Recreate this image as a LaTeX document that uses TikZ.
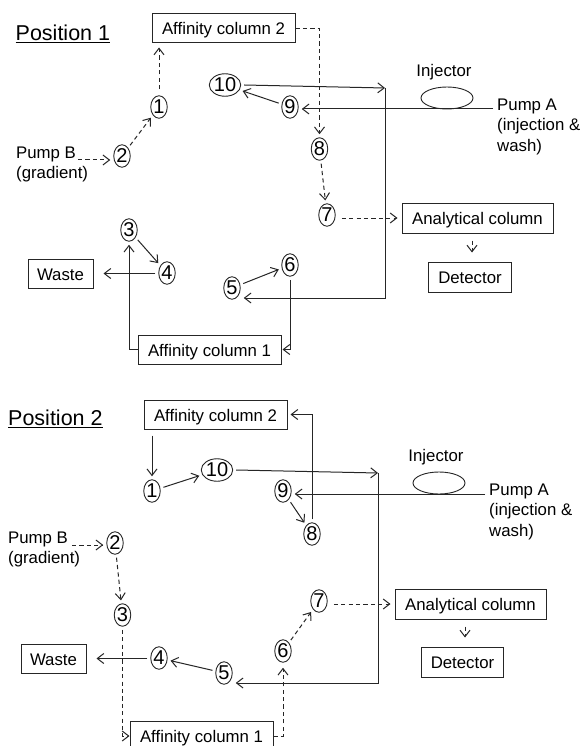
\documentclass[tikz,border=0pt]{standalone}
\usepackage{fontspec}
\setmainfont{Liberation Sans}
\usetikzlibrary{arrows.meta,shapes.geometric}
\tikzset{
  conn/.style={draw=black!85,line width=1pt},
  fl/.style={conn,-{Straight Barb[length=6.5pt,width=10pt,line width=1pt]}},
  dfl/.style={fl,dash pattern=on 4.2pt off 3.2pt},
  circ/.style={draw=black!85,ellipse,line width=0.9pt,inner sep=0pt,minimum width=16.5pt,minimum height=22.5pt,outer sep=3.5pt,font=\fontsize{20}{22}\selectfont},
  boxn/.style={draw=black!85,line width=1pt,inner sep=0pt,text height=13pt,text depth=0pt,font=\fontsize{16.8}{20}\selectfont},
  lab/.style={align=left,inner sep=0pt,font=\fontsize{16.8}{20.2}\selectfont},
  ttl/.style={inner sep=0pt,anchor=west,font=\fontsize{21.5}{24}\selectfont},
  inj/.style={draw=black!85,ellipse,line width=0.9pt,minimum width=52pt,minimum height=22pt,inner sep=0pt},
}
\begin{document}
\begin{tikzpicture}[x=1pt,y=-1pt]
\useasboundingbox (0,0) rectangle (581,746);
\fill[white] (0,0) rectangle (581,746);
\clip (0,0) rectangle (581,746);
% ---------- Position 1
\node[ttl] (t1) at (15.5,34) {\underline{Position 1}};
\node[boxn,minimum width=143pt,minimum height=29pt] (acb1) at (223.5,28.5) {Affinity column 2};
\node[boxn,minimum width=143pt,minimum height=29pt] (aca1) at (209.5,349.5) {Affinity column 1};
\node[boxn,minimum width=65pt,minimum height=29pt] (wa1) at (60.5,273.5) {Waste};
\node[boxn,minimum width=151pt,minimum height=30pt] (an1) at (477.5,218) {Analytical column};
\node[boxn,minimum width=82.5pt,minimum height=30pt] (de1) at (470,277) {Detector};
\node[inj] (in1) at (447,98) {};
\node[lab] (il1) at (444,72) {Injector};
\node[lab,anchor=north west] (pa1) at (497,99) {Pump A\\(injection \&\\wash)};
\node[lab,anchor=north west] (pb1) at (16,147) {Pump B\\(gradient)};
\coordinate (pal1) at (493,109);
\coordinate (pbl1) at (78,160);
\node[circ] (a1) at (159,107) {1};
\node[circ] (a2) at (122,156) {2};
\node[circ] (a3) at (129,230) {3};
\node[circ] (a4) at (167,273) {4};
\node[circ] (a5) at (232,288) {5};
\node[circ] (a6) at (290,265) {6};
\node[circ] (a7) at (327,215) {7};
\node[circ] (a8) at (319.5,149) {8};
\node[circ] (a9) at (290,107) {9};
\node[circ,minimum width=31pt] (a10) at (225,85) {10};
\coordinate (tr1) at (385,88);
\coordinate (br1) at (385,298);
\draw[dfl] (pbl1) -- (pbl1 -| a2.west);
\draw[dfl] (a2) -- (a1);
\draw[dfl,shorten <=3pt,shorten >=4pt] (a1) -- (a1 |- acb1.south);
\draw[dfl] (acb1.east) -- (acb1.east -| a8) -- (a8);
\draw[dfl] (a8) -- (a7);
\draw[dfl,shorten <=3pt,shorten >=4pt] (a7.east |- an1.west) -- (an1.west);
\draw[dfl,shorten <=7pt,shorten >=9pt] (an1.south) ++(-5.5,0) coordinate (ans1) -- (ans1 |- de1.north);
\draw[fl] (pal1) -- (pal1 -| a9.east);
\draw[fl] (a9) -- (a10);
\draw[fl] (a10.east) -- (tr1);
\draw[fl] (tr1) -- (br1) -- (br1 -| a5.east);
\draw[fl] (a5) -- (a6);
\draw[fl,shorten >=1pt] (a6.south) -- (a6.south |- aca1.east) -- (aca1.east);
\draw[fl] (aca1.west) -- (aca1.west -| a3) -- (a3.south);
\draw[fl] (a3) -- (a4);
\draw[fl,shorten >=10pt] (a4.west |- wa1.east) -- (wa1.east);
% ---------- Position 2
\node[ttl] (t2) at (8,419) {\underline{Position 2}};
\node[boxn,minimum width=143pt,minimum height=29pt] (acb2) at (215.5,414.5) {Affinity column 2};
\node[boxn,minimum width=143pt,minimum height=30pt] (aca2) at (201.5,736) {Affinity column 1};
\node[boxn,minimum width=65pt,minimum height=29pt] (wa2) at (53.5,658.5) {Waste};
\node[boxn,minimum width=151pt,minimum height=30pt] (an2) at (470.5,604) {Analytical column};
\node[boxn,minimum width=82.5pt,minimum height=30pt] (de2) at (462.5,662) {Detector};
\node[inj] (in2) at (439,483) {};
\node[lab] (il2) at (436,457.5) {Injector};
\node[lab,anchor=north west] (pa2) at (489,484) {Pump A\\(injection \&\\wash)};
\node[lab,anchor=north west] (pb2) at (8,532) {Pump B\\(gradient)};
\coordinate (pal2) at (485,494);
\coordinate (pbl2) at (72,545);
\node[circ] (b1) at (152,491) {1};
\node[circ] (b2) at (115,543) {2};
\node[circ] (b3) at (122.5,615) {3};
\node[circ] (b4) at (159,658) {4};
\node[circ] (b5) at (224,673) {5};
\node[circ] (b6) at (283,651) {6};
\node[circ] (b7) at (319,601) {7};
\node[circ] (b8) at (312,534) {8};
\node[circ] (b9) at (283,491) {9};
\node[circ,minimum width=31pt] (b10) at (217,470) {10};
\coordinate (tr2) at (378,473);
\coordinate (br2) at (378,683);
\draw[dfl] (pbl2) -- (pbl2 -| b2.west);
\draw[dfl] (b2) -- (b3);
\draw[dfl] (b3.south) -- (b3.south |- aca2.west) -- (aca2.west);
\draw[dfl,shorten >=2pt] (aca2.east) -- (aca2.east -| b6) -- (b6.south);
\draw[dfl] (b6) -- (b7);
\draw[dfl,shorten <=3pt,shorten >=4pt] (b7.east |- an2.west) -- (an2.west);
\draw[dfl,shorten <=7pt,shorten >=9pt] (an2.south) ++(-5.5,0) coordinate (ans2) -- (ans2 |- de2.north);
\draw[fl] (pal2) -- (pal2 -| b9.east);
\draw[fl] (b9) -- (b8);
\draw[fl,shorten >=3pt] (b8.north) -- (b8.north |- acb2.east) -- (acb2.east);
\draw[fl,shorten <=6pt] (acb2.south -| b1) -- (b1.north);
\draw[fl] (b1) -- (b10);
\draw[fl] (b10.east) -- (tr2);
\draw[fl] (tr2) -- (br2) -- (br2 -| b5.east);
\draw[fl] (b5) -- (b4);
\draw[fl,shorten >=10pt] (b4.west |- wa2.east) -- (wa2.east);
\end{tikzpicture}
\end{document}
